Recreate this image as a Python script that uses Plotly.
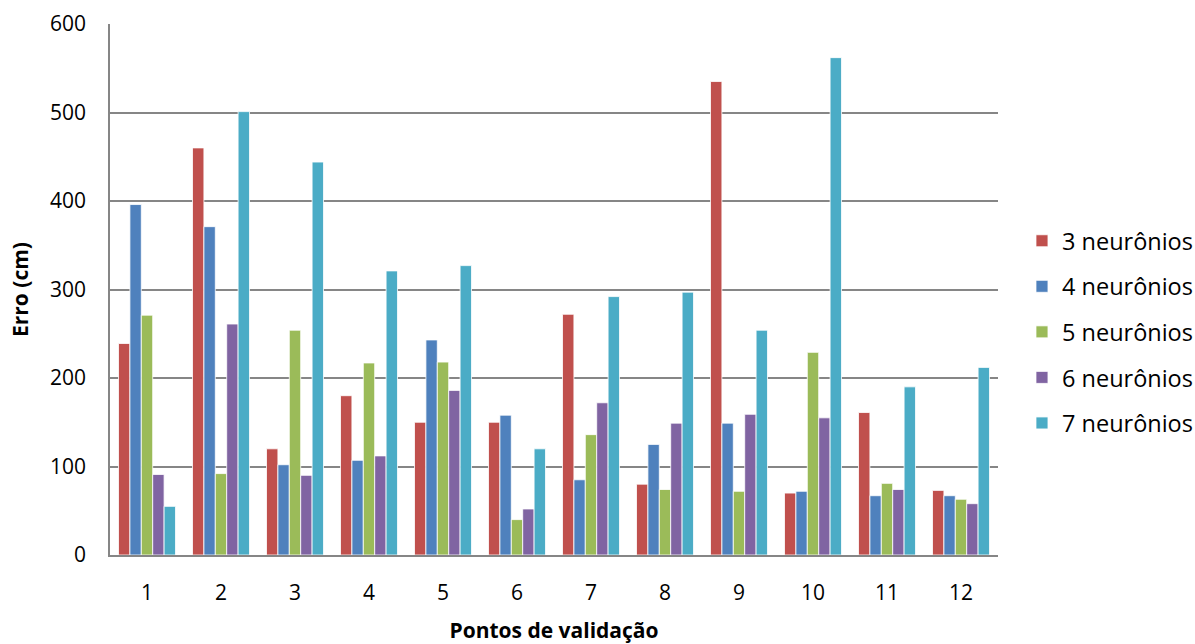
import plotly.graph_objects as go

categories = ["1", "2", "3", "4", "5", "6", "7", "8", "9", "10", "11", "12"]
series_names = ["3 neurônios", "4 neurônios", "5 neurônios", "6 neurônios", "7 neurônios"]
n3 = [239, 460, 120, 180, 150, 150, 272, 80, 535, 70, 161, 73]
n4 = [396, 371, 102, 107, 243, 158, 85, 125, 149, 72, 67, 67]
n5 = [271, 92, 254, 217, 218, 40, 136, 74, 72, 229, 81, 63]
n6 = [91, 261, 90, 112, 186, 52, 172, 149, 159, 155, 74, 58]
n7 = [55, 501, 444, 321, 327, 120, 292, 297, 254, 562, 190, 212]
colors = ["#C0504D", "#4F81BD", "#9BBB59", "#8064A2", "#4BACC6"]

fig = go.Figure()
for name, vals, col in zip(series_names, [n3, n4, n5, n6, n7], colors):
    fig.add_trace(go.Bar(
        x=categories, y=vals, name=name, legendgroup=name,
        marker=dict(color=col, line=dict(color="white", width=0.8)),
    ))

font_family = "'Open Sans', sans-serif"
fig.update_layout(
    width=1195, height=644,
    margin=dict(l=110, r=197, t=24, b=89, autoexpand=False),
    paper_bgcolor="white", plot_bgcolor="white",
    barmode="group", bargap=0.23, bargroupgap=0,
    font=dict(family=font_family, size=21, color="#000000"),
    legend=dict(x=1.027, y=0.42, xanchor="left", yanchor="middle",
                font=dict(size=23.5), tracegroupgap=12, itemwidth=30),
    showlegend=True,
)
fig.update_xaxes(
    title=dict(text="<b>Pontos de validação</b>", font=dict(size=21), standoff=19),
    showline=True, linecolor="#868686", linewidth=1.5,
    ticks="", tickfont=dict(size=21), showgrid=False,
    ticklabelstandoff=18, automargin=False,
)
fig.update_yaxes(
    title=dict(text="<b>Erro (cm)</b>", font=dict(size=21), standoff=16),
    range=[0, 600], dtick=100,
    showline=True, linecolor="#868686", linewidth=1.5,
    gridcolor="#868686", gridwidth=1.5,
    ticks="", ticklabelstandoff=18,
    tickfont=dict(size=21), zeroline=False, automargin=False,
)
fig.write_html("out.html", config={"displayModeBar": False},
               post_script="document.body.style.margin='0';document.body.style.overflow='hidden';")
